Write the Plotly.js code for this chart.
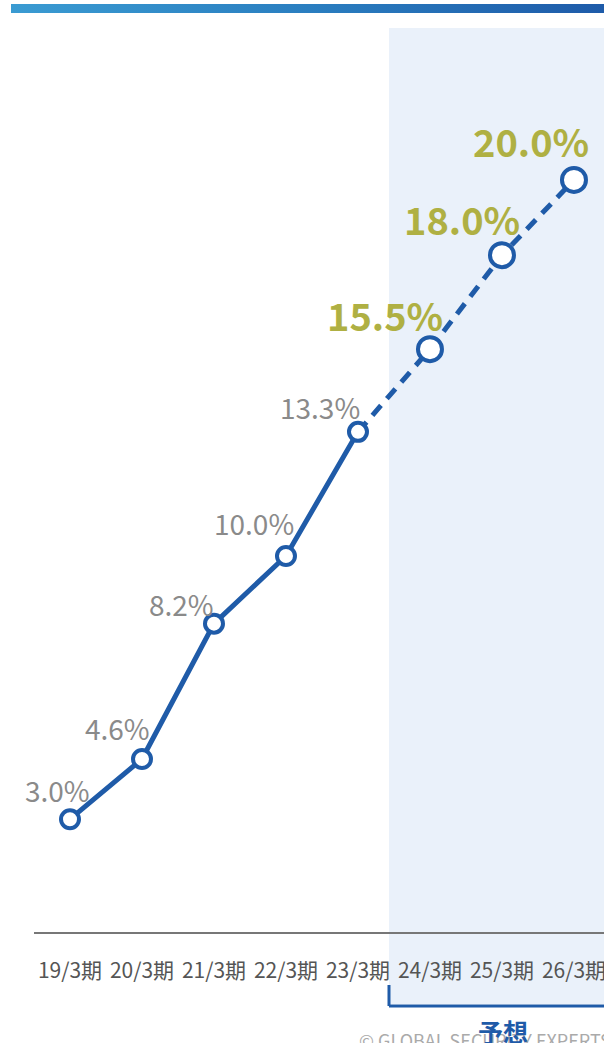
<!DOCTYPE html>
<html><head><meta charset="utf-8">
<script src="https://cdn.plot.ly/plotly-3.0.1.min.js"></script>
<style>
html,body{margin:0;padding:0;background:#fff;overflow:hidden}
#bar{position:absolute;left:11px;top:4px;width:593px;height:9px;background:linear-gradient(90deg,#3A9BD2,#2A7EC0 50%,#1E5BA9);z-index:2}
#chart{position:absolute;left:0;top:0;width:604px;height:1043px}
</style></head>
<body>
<div id="chart"></div>
<div id="bar"></div>
<script>
// data
const categories = ["19/3期","20/3期","21/3期","22/3期","23/3期","24/3期","25/3期","26/3期"];
const values = [3.0, 4.6, 8.2, 10.0, 13.3, 15.5, 18.0, 20.0];
const valueLabels = ["3.0%","4.6%","8.2%","10.0%","13.3%","15.5%","18.0%","20.0%"];
const actualCount = 5; // first 5 are actual, rest forecast
const forecastTitle = "予想";
const copyright = "© GLOBAL SECURITY EXPERTS";

// label offsets (style)
const labelShift = [[-13,29],[-25,31],[-32,20],[-32,33],[-38,25],[-45,35],[-40,37],[-43,39]];

const blue = "#1F5BA8";
const font = "'Noto Sans CJK JP','Noto Sans',sans-serif";

const actX = categories.slice(0, actualCount), actY = values.slice(0, actualCount);
const fcX = categories.slice(actualCount - 1), fcY = values.slice(actualCount - 1);

const traces = [
  {x: actX, y: actY, mode: "lines", line: {color: blue, width: 5}, hoverinfo: "skip"},
  {x: fcX, y: fcY, mode: "lines", line: {color: blue, width: 5, dash: "13px,9px"}, hoverinfo: "skip"},
  {x: actX, y: actY, mode: "markers", marker: {size: 18, color: "#fff", line: {color: blue, width: 4}}, hoverinfo: "skip"},
  {x: categories.slice(actualCount), y: values.slice(actualCount), mode: "markers", marker: {size: 24, color: "#fff", line: {color: blue, width: 4}}, hoverinfo: "skip"}
];

const annotations = values.map((v, i) => {
  const fc = i >= actualCount;
  return {
    x: categories[i], y: v, xref: "x", yref: "y", text: valueLabels[i], showarrow: false,
    xanchor: "center", yanchor: "middle", xshift: labelShift[i][0], yshift: labelShift[i][1],
    font: fc ? {family: font, size: 38, color: "#AFB043", weight: 600} : {family: font, size: 28, color: "#8A8A8A"}
  };
});
annotations.push({xref: "paper", yref: "paper", x: 0.5667, y: -0.1195, xanchor: "left", yanchor: "middle",
  text: copyright, showarrow: false, font: {family: font, size: 18, color: "#AAAAAA"}});
annotations.push({xref: "paper", yref: "paper", x: 0.8228, y: -0.1095, xanchor: "center", yanchor: "middle",
  text: "<b>" + forecastTitle + "</b>", showarrow: false, font: {family: font, size: 25, color: blue}});

const shapes = [
  {type: "rect", xref: "paper", yref: "paper", x0: 0.6228, x1: 1.02, y0: -0.0796, y1: 1, fillcolor: "#EAF1FA", line: {width: 0}, layer: "below"},
  {type: "line", xref: "paper", yref: "paper", x0: 0.6228, x1: 0.6228, y0: -0.0586, y1: -0.0819, line: {color: blue, width: 3}},
  {type: "line", xref: "paper", yref: "paper", x0: 0.6228, x1: 1.02, y0: -0.0819, y1: -0.0819, line: {color: blue, width: 3}}
];

const layout = {
  width: 604, height: 1043,
  margin: {l: 34, r: 0, t: 28, b: 111, pad: 0},
  paper_bgcolor: "#fff", plot_bgcolor: "rgba(0,0,0,0)",
  showlegend: false,
  xaxis: {type: "category", categoryarray: categories, range: [-0.5, 7.417], showgrid: false, zeroline: false,
    showline: true, linecolor: "#777777", linewidth: 2, ticks: "", ticklabelstandoff: 19,
    tickfont: {family: font, size: 21, color: "#555555"}, fixedrange: true},
  yaxis: {range: [0, 24.04], showgrid: false, zeroline: false, showline: false, showticklabels: false, fixedrange: true},
  annotations: annotations, shapes: shapes
};

Plotly.newPlot("chart", traces, layout, {displayModeBar: false, staticPlot: true});
</script>
</body></html>
